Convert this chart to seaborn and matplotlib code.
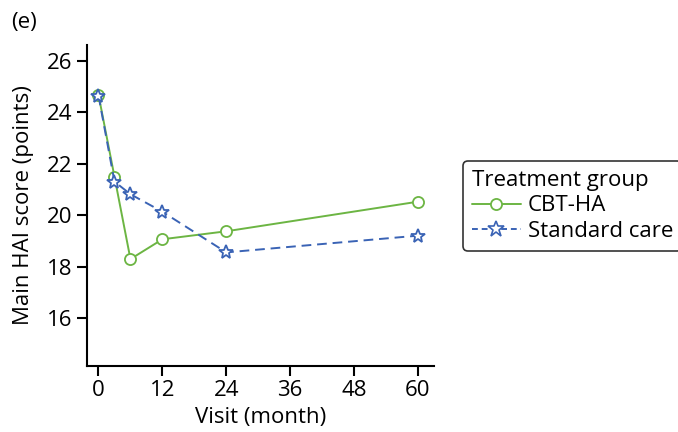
import numpy as np
import pandas as pd
import matplotlib
matplotlib.use("Agg")
import matplotlib.pyplot as plt
import seaborn as sns
from matplotlib.lines import Line2D

# Values
visits = [0, 3, 6, 12, 24, 60]
cbt_ha = [24.68, 21.5, 18.3, 19.07, 19.38, 20.53]
standard_care = [24.65, 21.31, 20.82, 20.14, 18.56, 19.21]
groups = ["CBT-HA", "Standard care"]
x_ticks = [0, 12, 24, 36, 48, 60]
y_ticks = [16, 18, 20, 22, 24, 26]

green = "#6cb543"
blue = "#3a63b5"

df = pd.DataFrame({
    "visit": visits * 2,
    "score": cbt_ha + standard_care,
    "group": [groups[0]] * len(visits) + [groups[1]] * len(visits),
})

sns.set_style("ticks")
plt.rcParams["font.family"] = ["Open Sans", "DejaVu Sans"]
plt.rcParams["text.color"] = "black"
plt.rcParams["axes.labelcolor"] = "black"
plt.rcParams["xtick.color"] = "black"
plt.rcParams["ytick.color"] = "black"

fs = 16

fig = plt.figure(figsize=(6.78, 4.32), dpi=100)
ax = fig.add_axes([0.128, 0.153, 0.512, 0.743])

sns.lineplot(data=df, x="visit", y="score", hue="group", style="group",
             palette={groups[0]: green, groups[1]: blue},
             markers={groups[0]: "o", groups[1]: "*"},
             dashes={groups[0]: "", groups[1]: (5, 3)},
             linewidth=1.4, markersize=8, legend=False, ax=ax)

for line in ax.get_lines():
    line.set_markerfacecolor("white")
    line.set_markeredgewidth(1.3)
    line.set_markeredgecolor(line.get_color())
    if line.get_marker() == "*":
        line.set_markersize(10)

ax.set_xlim(-2.2, 63)
ax.set_ylim(14.15, 26.62)
ax.set_xticks(x_ticks)
ax.set_yticks(y_ticks)
ax.tick_params(labelsize=fs, length=7, width=1.5, color="black")
for side in ["left", "bottom"]:
    ax.spines[side].set_linewidth(1.5)
    ax.spines[side].set_color("black")
sns.despine(ax=ax)

ax.set_xlabel("Visit (month)", fontsize=fs, labelpad=4)
ax.set_ylabel("Main HAI score (points)", fontsize=fs, labelpad=9)

fig.text(0.016, 0.935, "(e)", fontsize=fs)

handles = [
    Line2D([], [], color=green, marker="o", mfc="white", mec=green,
           markersize=8, linewidth=1.4, markeredgewidth=1.3),
    Line2D([], [], color=blue, marker="*", mfc="white", mec=blue,
           markersize=12, linewidth=1.4, linestyle=(0, (3, 2)),
           markeredgewidth=1.2),
]
leg = fig.legend(handles, groups, title="Treatment group",
                 loc="upper left", bbox_to_anchor=(0.683, 0.627),
                 fontsize=fs, title_fontsize=fs, frameon=True,
                 fancybox=True, handlelength=2.2, handletextpad=0.3,
                 borderpad=0.4, labelspacing=0.2, borderaxespad=0)
leg._legend_box.align = "left"
leg.get_frame().set_edgecolor("black")
leg.get_frame().set_linewidth(1.2)

fig.savefig("out.png", dpi=100)
